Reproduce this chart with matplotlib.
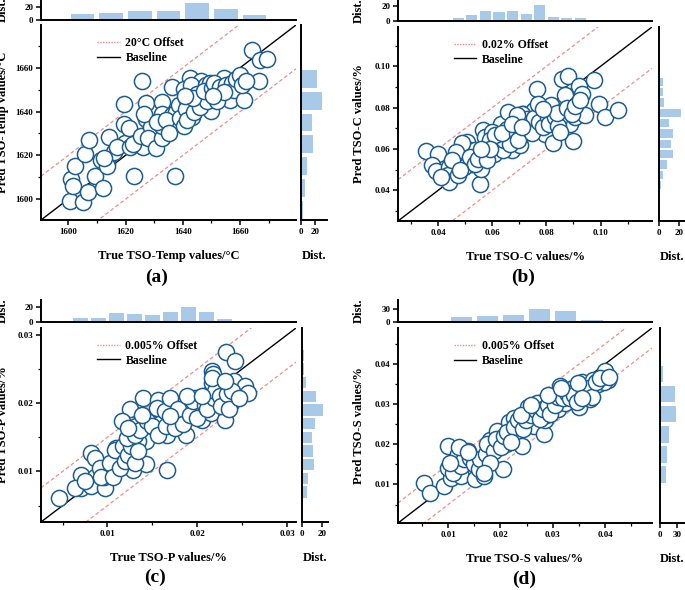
import numpy as np
import matplotlib
matplotlib.use('Agg')
import matplotlib.pyplot as plt
from matplotlib.ticker import MultipleLocator, FormatStrFormatter

plt.rcParams['font.family'] = ['Liberation Serif', 'DejaVu Serif']
plt.rcParams['font.weight'] = 'bold'
plt.rcParams['axes.labelweight'] = 'bold'

# ========== DATA ==========
# (a) temperature
a_true = [1600.5, 1605, 1601, 1601.5, 1602.3, 1605.7, 1607.2, 1607, 1609.5,
          1612.1, 1611.3, 1613.6, 1613.6, 1614.4, 1615.9, 1619.5, 1619.8, 1619.6, 1612.5, 1617,
          1621.2, 1621.4, 1623.1, 1625.8, 1624.7, 1626, 1627.2, 1627.2, 1628.5, 1622.5, 1625.5, 1629, 1626.5, 1628,
          1630.7, 1632.8, 1632.6, 1632.8, 1632.6, 1631, 1636.3, 1636.3, 1637.6, 1637.2, 1634, 1638.5, 1635, 1639,
          1640.3, 1642.6, 1640.3, 1641.5, 1643.3, 1644.4, 1646.2, 1646.7, 1645.6, 1644.5, 1647.9, 1649.8, 1641,
          1642, 1643, 1645, 1647, 1648, 1649, 1641.5, 1644, 1646, 1648.5, 1649.5, 1643.5, 1647.5, 1640.8,
          1650.2, 1652.1, 1653.1, 1654.3, 1651.5, 1656.3, 1656.6, 1659.5, 1651, 1653, 1655, 1657, 1658, 1652,
          1654.5, 1650.5, 1658.5,
          1660.1, 1661.2, 1660.5, 1664.2, 1666.5, 1667.1, 1669.5, 1662]
a_pred = [1599.2, 1598.5, 1609, 1606, 1615.3, 1620.8, 1626.8, 1603.3, 1610.5,
          1605.3, 1618, 1616.5, 1615, 1628.6, 1621.4, 1643.3, 1625.6, 1634.3, 1619, 1624,
          1632.3, 1624, 1610.8, 1653.8, 1626.3, 1624, 1643.9, 1636.4, 1631.3, 1625, 1629, 1633, 1639, 1628,
          1623.3, 1627.8, 1644.4, 1639.1, 1633.4, 1635.3, 1651.1, 1638.3, 1639.8, 1610.5, 1636, 1643, 1630, 1637,
          1633.4, 1655.3, 1650.4, 1645.1, 1637.6, 1650.4, 1654.1, 1650, 1645.4, 1645, 1643.6, 1640.3, 1641,
          1648, 1652, 1648, 1647, 1652, 1649, 1636, 1640, 1642, 1645, 1653, 1646, 1649.5, 1647,
          1650.8, 1648.9, 1646.6, 1655.3, 1650, 1649.6, 1645.1, 1651.9, 1653, 1651, 1652, 1653, 1650, 1645,
          1649, 1647, 1655,
          1656.8, 1645.1, 1652, 1668, 1653.8, 1663.5, 1663.9, 1654]
a_top_edges = [1600, 1610, 1620, 1630, 1640, 1650, 1660, 1670]
a_top_counts = [9, 11, 14, 14, 27, 17, 8]
a_right_edges = [1590, 1600, 1610, 1620, 1630, 1640, 1650, 1660, 1670]
a_right_counts = [3, 5, 8, 16, 15, 29, 22, 2]

# (b) carbon
b_true = [0.0357, 0.0398, 0.0378, 0.0394, 0.0440, 0.0437, 0.0440, 0.0472, 0.0472, 0.0505,
          0.0507, 0.0501, 0.0526, 0.0536, 0.0554, 0.0560, 0.0567, 0.0573, 0.0570, 0.0585,
          0.0607, 0.0632, 0.0657, 0.0653, 0.0672, 0.0674, 0.0702, 0.0715, 0.0731, 0.0746,
          0.0756, 0.0764, 0.0795, 0.0807, 0.0817, 0.0826, 0.0854, 0.0857, 0.0881, 0.0867,
          0.0888, 0.0900, 0.0904, 0.0912, 0.0921, 0.0931, 0.0943, 0.0974, 0.0993, 0.1015,
          0.1064, 0.0847, 0.0783, 0.0610, 0.0598,
          0.0489, 0.0468, 0.0496, 0.0517, 0.0536, 0.0548, 0.0579, 0.0591, 0.0625, 0.0641,
          0.0644, 0.0665, 0.0612, 0.0635, 0.0690, 0.0696, 0.0709, 0.0727, 0.0740, 0.0746,
          0.0756, 0.0773, 0.0789, 0.0805, 0.0810, 0.0830, 0.0842, 0.0851, 0.0838, 0.0875,
          0.0894, 0.0906, 0.0925, 0.0768, 0.0789, 0.0690, 0.0674, 0.0709, 0.0591, 0.0560,
          0.0452, 0.0480, 0.0412]
b_pred = [0.0590, 0.0574, 0.0521, 0.0494, 0.0513, 0.0473, 0.0440, 0.0545, 0.0473, 0.0634,
          0.0602, 0.0545, 0.0529, 0.0594, 0.0429, 0.0505, 0.0690, 0.0658, 0.0602, 0.0561,
          0.0577, 0.0723, 0.0779, 0.0698, 0.0661, 0.0594, 0.0618, 0.0771, 0.0682, 0.0723,
          0.0787, 0.0892, 0.0674, 0.0763, 0.0811, 0.0629, 0.0779, 0.0940, 0.0952, 0.0860,
          0.0723, 0.0639, 0.0755, 0.0819, 0.0903, 0.0865, 0.0763, 0.0932, 0.0819, 0.0755,
          0.0790, 0.0747, 0.0739, 0.0642, 0.0682,
          0.0629, 0.0585, 0.0513, 0.0561, 0.0526, 0.0553, 0.0548, 0.0642, 0.0610, 0.0597,
          0.0642, 0.0626, 0.0666, 0.0677, 0.0677, 0.0642, 0.0768, 0.0747, 0.0690, 0.0677,
          0.0752, 0.0731, 0.0706, 0.0755, 0.0719, 0.0755, 0.0710, 0.0682, 0.0774, 0.0800,
          0.0771, 0.0806, 0.0835, 0.0819, 0.0795, 0.0763, 0.0719, 0.0706, 0.0602, 0.0602,
          0.0545, 0.0497, 0.0465]
b_top_edges = [0.040, 0.045, 0.050, 0.055, 0.060, 0.065, 0.070, 0.075, 0.080, 0.085, 0.090, 0.095, 0.100]
b_top_counts = [2, 4, 8, 14, 12, 14, 10, 22, 5, 4, 4, 1]
b_right_edges = b_top_edges
b_right_counts = [2, 4, 8, 14, 12, 14, 10, 22, 5, 4, 4, 1]

# (c) phosphorus
c_true = [0.00459, 0.00701, 0.00701, 0.00821, 0.00866, 0.00866, 0.00821, 0.0097, 0.00963, 0.0105,
          0.0112, 0.0109, 0.0120, 0.0128, 0.0119, 0.0143, 0.0166, 0.0143, 0.0134, 0.0122,
          0.0125, 0.0132, 0.0140, 0.0156, 0.0152, 0.0160, 0.0170, 0.0166, 0.0181, 0.0188,
          0.0187, 0.0198, 0.0202, 0.0205, 0.0213, 0.0215, 0.0224, 0.0229, 0.0231, 0.0216,
          0.0218, 0.0216, 0.0232, 0.0242, 0.0241, 0.0238, 0.0253, 0.0256,
          0.00634, 0.00746, 0.00914, 0.00933, 0.01026, 0.01063, 0.01082, 0.01138, 0.01175, 0.01201,
          0.01231, 0.01261, 0.01306, 0.01343, 0.01213, 0.01306, 0.01362, 0.01437, 0.01493, 0.01567,
          0.01549, 0.01642, 0.01698, 0.01649, 0.01754, 0.01791, 0.01836, 0.01922, 0.01948, 0.01996,
          0.0209, 0.02108, 0.02183, 0.02201, 0.02257, 0.02269, 0.02332, 0.02351, 0.02388, 0.02463,
          0.02164, 0.02313, 0.01157, 0.01231, 0.01388, 0.01698, 0.01884, 0.02052]
c_pred = [0.00618, 0.00755, 0.00951, 0.0127, 0.0120, 0.00912, 0.0078, 0.00755, 0.00926, 0.0102,
          0.0125, 0.0134, 0.0132, 0.0102, 0.0115, 0.0111, 0.0102, 0.0145, 0.0144, 0.0174,
          0.0191, 0.0166, 0.0208, 0.0205, 0.0183, 0.0171, 0.0196, 0.0154, 0.0171, 0.0196,
          0.0154, 0.0208, 0.0187, 0.0175, 0.0213, 0.0186, 0.0220, 0.0196, 0.0176, 0.0247,
          0.0242, 0.0230, 0.0275, 0.0261, 0.0233, 0.0200, 0.0225, 0.0215,
          0.00755, 0.00853, 0.01049, 0.00926, 0.01123, 0.00926, 0.01319, 0.01049, 0.01368, 0.01147,
          0.01245, 0.01368, 0.01123, 0.01294, 0.0149, 0.01539, 0.01613, 0.01735, 0.01662, 0.01539,
          0.01931, 0.01882, 0.02078, 0.01662, 0.01637, 0.01907, 0.01696, 0.01833, 0.02029, 0.01784,
          0.0198, 0.01907, 0.02078, 0.02176, 0.02103, 0.01956, 0.02127, 0.01907, 0.02176, 0.02078,
          0.02373, 0.02324, 0.01735, 0.01637, 0.01833, 0.01809, 0.02103, 0.02103]
c_top_edges = [0.006, 0.008, 0.010, 0.012, 0.014, 0.016, 0.018, 0.020, 0.022, 0.024, 0.026, 0.028]
c_top_counts = [5, 6, 12, 11, 10, 13, 21, 14, 4, 2, 2]
c_right_edges = c_top_edges
c_right_counts = [5, 6, 12, 11, 10, 13, 21, 14, 4, 2, 2]

# (d) sulphur
d_true = [0.00547, 0.00644, 0.00916, 0.0105, 0.0100, 0.0100, 0.0119, 0.0124, 0.0137, 0.0139,
          0.0152, 0.0168, 0.0169, 0.0178, 0.0180, 0.0193, 0.0204, 0.0210, 0.0195, 0.0184,
          0.0217, 0.0225, 0.0242, 0.0252, 0.0264, 0.0270, 0.0283, 0.0286, 0.0288, 0.0303,
          0.0310, 0.0314, 0.0323, 0.0339, 0.0350, 0.0350, 0.0356, 0.0372, 0.0378, 0.0387,
          0.0401, 0.0406, 0.0398,
          0.01097, 0.01239, 0.01304, 0.01421, 0.01485, 0.01583, 0.01615, 0.01731, 0.01744, 0.01874,
          0.01906, 0.02003, 0.02068, 0.02133, 0.02262, 0.02327, 0.02424, 0.02489, 0.02586, 0.02683,
          0.02748, 0.02812, 0.02909, 0.02942, 0.03039, 0.03104, 0.03201, 0.03265, 0.0333, 0.03414,
          0.03460, 0.03608, 0.03686, 0.03751, 0.03828, 0.03913, 0.04074, 0.02197, 0.01809, 0.0168,
          0.01032, 0.01214, 0.01388, 0.02392, 0.02586, 0.02909, 0.03168, 0.03492, 0.03557]
d_pred = [0.01025, 0.0079, 0.0096, 0.0117, 0.0142, 0.0197, 0.0176, 0.0121, 0.0184, 0.0159,
          0.0113, 0.0121, 0.0146, 0.0171, 0.0212, 0.0234, 0.0138, 0.0201, 0.0205, 0.0192,
          0.0255, 0.0266, 0.0197, 0.0293, 0.0245, 0.0302, 0.0226, 0.0260, 0.0274, 0.0314,
          0.0289, 0.0346, 0.0302, 0.0341, 0.0293, 0.0327, 0.0355, 0.0313, 0.0361, 0.0350,
          0.0382, 0.0361, 0.0355,
          0.01294, 0.01462, 0.0163, 0.01672, 0.01504, 0.01378, 0.0163, 0.01756, 0.02008, 0.0184,
          0.02134, 0.01924, 0.02218, 0.02303, 0.02429, 0.02597, 0.02387, 0.02597, 0.02723, 0.02849,
          0.02639, 0.02891, 0.02975, 0.02765, 0.02975, 0.03185, 0.03143, 0.03269, 0.03143, 0.03227,
          0.03059, 0.03269, 0.03395, 0.03185, 0.03546, 0.03647, 0.03689, 0.0205, 0.01546, 0.01294,
          0.01546, 0.01924, 0.01798, 0.02723, 0.02975, 0.03227, 0.03395, 0.03521, 0.03143]
d_top_edges = [0.005, 0.010, 0.015, 0.020, 0.025, 0.030, 0.035, 0.040]
d_top_counts = [1, 11, 13, 15, 29, 26, 5]
d_right_edges = d_top_edges
d_right_counts = [1, 11, 13, 15, 29, 26, 5]

# ========== STYLE ==========
W, H = 685, 590
PT_COLOR = '#1c5d8f'
HIST_COLOR = '#a9c9e8'
OFF_COLOR = '#f08c8c'


def rect(x0, y0, x1, y1):
    return [x0 / W, 1 - y1 / H, (x1 - x0) / W, (y1 - y0) / H]


def style_spines(ax):
    for s in ['top', 'right']:
        ax.spines[s].set_visible(False)
    for s in ['left', 'bottom']:
        ax.spines[s].set_linewidth(1.4)
    ax.tick_params(which='major', direction='out', length=3.5, width=1.1, labelsize=6.5, pad=2)
    ax.tick_params(which='minor', direction='out', length=2, width=0.9)


fig = plt.figure(figsize=(W / 100, H / 100), dpi=100)

panels = [
    dict(x=a_true, y=a_pred, lim=(1590.5, 1679.5), off=20, off_lab='20°C Offset',
         xl='True TSO-Temp values/°C', yl='Pred TSO-Temp values/°C',
         major=20, minor=10, fmt='%d',
         te=a_top_edges, tc=a_top_counts, re=a_right_edges, rc=a_right_counts,
         main=(41, 25, 296, 220), top=(41, 0, 296, 20), right=(301, 25, 327, 220),
         tlim=31, rlim=36, tstep=20, ylx=9, tag='(a)', tagxy=(157, 277)),
    dict(x=b_true, y=b_pred, lim=(0.0252, 0.119), off=0.02, off_lab='0.02% Offset',
         xl='True TSO-C values/%', yl='Pred TSO-C values/%',
         major=0.02, minor=0.01, fmt='%.2f',
         te=b_top_edges, tc=b_top_counts, re=b_right_edges, rc=b_right_counts,
         main=(398, 27, 652, 221), top=(398, 0, 652, 21), right=(659, 27, 685, 221),
         tlim=28, rlim=26, tstep=20, ylx=365, tag='(b)', tagxy=(523, 277)),
    dict(x=c_true, y=c_pred, lim=(0.0026, 0.031), off=0.005, off_lab='0.005% Offset',
         xl='True TSO-P values/%', yl='Pred TSO-P values/%',
         major=0.01, minor=0.005, fmt='%.2f',
         te=c_top_edges, tc=c_top_counts, re=c_right_edges, rc=c_right_counts,
         main=(41, 328, 296, 522), top=(41, 300, 296, 322), right=(302, 328, 328, 522),
         tlim=30, rlim=26, tstep=20, ylx=9, tag='(c)', tagxy=(155, 577)),
    dict(x=d_true, y=d_pred, lim=(0.0004, 0.049), off=0.005, off_lab='0.005% Offset',
         xl='True TSO-S values/%', yl='Pred TSO-S values/%',
         major=0.01, minor=0.005, fmt='%.2f',
         te=d_top_edges, tc=d_top_counts, re=d_right_edges, rc=d_right_counts,
         main=(398, 328, 652, 523), top=(398, 300, 652, 322), right=(660, 328, 685, 523),
         tlim=50, rlim=44, tstep=30, ylx=365, tag='(d)', tagxy=(524, 579)),
]

for p in panels:
    lo, hi = p['lim']
    ax = fig.add_axes(rect(*p['main']))
    axt = fig.add_axes(rect(*p['top']), sharex=ax)
    axr = fig.add_axes(rect(*p['right']), sharey=ax)

    # diagonal and offsets
    line = np.array([lo, hi])
    ax.plot(line, line + p['off'], color=OFF_COLOR, ls=(0, (3, 2)), lw=0.9, zorder=1)
    ax.plot(line, line - p['off'], color=OFF_COLOR, ls=(0, (3, 2)), lw=0.9, zorder=1)
    ax.plot(line, line, color='black', lw=1.0, zorder=2)
    ax.scatter(p['x'], p['y'], s=135, facecolor='white', edgecolor=PT_COLOR, linewidth=1.1, zorder=3)

    # legend handles
    h1, = ax.plot([], [], color=OFF_COLOR, ls=(0, (1, 1)), lw=1.0)
    h2, = ax.plot([], [], color='black', lw=1.0)
    ax.legend([h1, h2], [p['off_lab'], 'Baseline'], loc='upper left',
              bbox_to_anchor=(0.22, 0.94), frameon=False, fontsize=8.5,
              handlelength=1.9, handletextpad=0.5, labelspacing=0.25,
              borderpad=0, borderaxespad=0)

    ax.set_xlim(lo, hi)
    ax.set_ylim(lo, hi)
    style_spines(ax)
    for a in (ax.xaxis, ax.yaxis):
        a.set_major_locator(MultipleLocator(p['major']))
        a.set_minor_locator(MultipleLocator(p['minor']))
        a.set_major_formatter(FormatStrFormatter(p['fmt']))
    ax.set_xlabel(p['xl'], fontsize=9)
    ax.set_ylabel(p['yl'], fontsize=9)
    x0, y0, x1, y1 = p['main']
    ax.xaxis.set_label_coords(0.5, -(30) / (y1 - y0))
    ax.yaxis.set_label_coords(-(x0 - p['ylx']) / (x1 - x0), 0.5)

    # top histogram
    te = np.array(p['te'])
    tw = np.diff(te)
    axt.bar(te[:-1] + tw / 2, p['tc'], width=tw * 0.82, color=HIST_COLOR)
    axt.set_ylim(0, p['tlim'])
    style_spines(axt)
    axt.set_yticks([0, p['tstep']])
    axt.tick_params(axis='x', which='both', bottom=False, labelbottom=False)
    axt.set_ylabel('Dist.', fontsize=9)
    tx0, ty0, tx1, ty1 = p['top']
    axt.yaxis.set_label_coords(-(tx0 - p['ylx']) / (tx1 - tx0), 0.5)

    # right histogram
    re = np.array(p['re'])
    rw = np.diff(re)
    axr.barh(re[:-1] + rw / 2, p['rc'], height=rw * 0.82, color=HIST_COLOR)
    axr.set_xlim(0, p['rlim'])
    style_spines(axr)
    axr.set_xticks([0, p['tstep']])
    axr.tick_params(axis='y', which='both', left=False, labelleft=False)
    axr.set_xlabel('Dist.', fontsize=9)
    axr.xaxis.set_label_coords(0.5, -(30) / (y1 - y0))

    fig.text(p['tagxy'][0] / W, 1 - p['tagxy'][1] / H, p['tag'], fontsize=14,
             fontweight='bold', ha='center', va='center')

fig.savefig('out.png', dpi=100)
